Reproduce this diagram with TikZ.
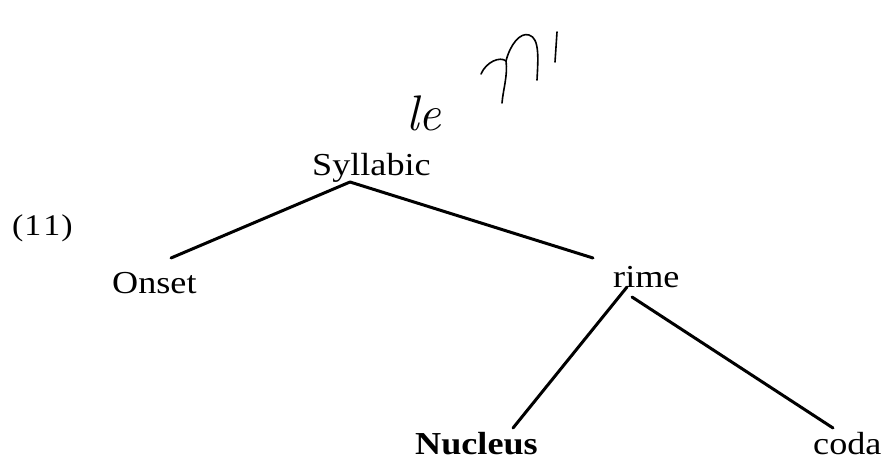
\documentclass[tikz,border=0pt]{standalone}
\usepackage{fontspec}
\setmainfont{Liberation Serif}[FakeStretch=1.13]
\newfontfamily\handfont{Latin Modern Roman}
\usetikzlibrary{calc}
\begin{document}
\begin{tikzpicture}[x=1pt,y=-1pt,
  lbl/.style={inner sep=0pt,anchor=base west,font=\fontsize{32}{32}\selectfont},
  branch/.style={line width=3pt,line cap=round},
  hand/.style={line width=1.6pt,line cap=round,line join=round}]
\useasboundingbox (0,0) rectangle (882,460);
% labels
\node[lbl] (syl) at (312,175) {Syllabic};
\node[lbl,font=\fontsize{30}{30}\selectfont] (num) at (12,235) {(\kern1pt1\kern2pt1\kern1pt)};
\node[lbl] (onset) at (112,293) {Onset};
\node[lbl] (rime) at (613,287) {rime};
\node[lbl,font=\fontsize{32}{32}\selectfont\bfseries] (nuc) at (415,454) {Nucleus};
\node[lbl] (coda) at (813,454) {coda};
% handwritten note
\node[lbl,font=\fontsize{50}{50}\handfont\itshape] (note) at (406,130) {le};
\coordinate (h1) at (481,74);
\coordinate (h2) at (506,61);
\coordinate (h3) at (502,103);
\coordinate (h4) at (537,80);
\coordinate (h5) at (557,32);
\coordinate (h6) at (555,62);
\draw[hand] (h1) .. controls (486,62) and (500,56) .. (h2) .. controls (508,75) and (503,90) .. (h3);
\draw[hand] (h2) .. controls (510,45) and (520,32) .. (529,35) .. controls (540,38) and (538,60) .. (h4);
\draw[hand] (h5) -- (h6);
% branches
\coordinate (apex) at ($(syl.base west)+(38,7)$);
\draw[branch] (apex) -- ($(onset.base west)+(59,-35)$);
\draw[branch] (apex) -- ($(rime.base west)+(-20,-29)$);
\draw[branch] ($(rime.base west)+(14,0)$) -- ($(nuc.base west)+(98,-26)$);
\draw[branch] ($(rime.base west)+(19,10)$) -- ($(coda.base west)+(20,-26)$);
\end{tikzpicture}
\end{document}
